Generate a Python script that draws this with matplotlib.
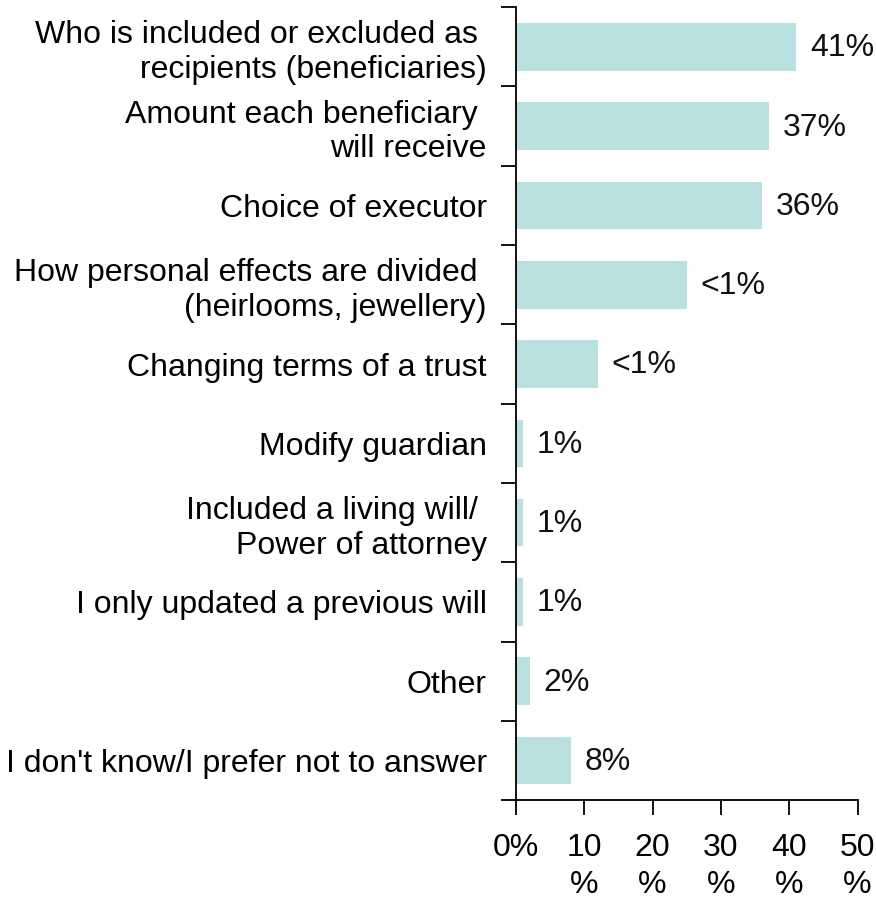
import matplotlib
matplotlib.use("Agg")
import matplotlib.pyplot as plt
import numpy as np

# Survey answers: what changed in the will
categories = [
    "Who is included or excluded as \nrecipients (beneficiaries)",
    "Amount each beneficiary \nwill receive",
    "Choice of executor",
    "How personal effects are divided \n(heirlooms, jewellery)",
    "Changing terms of a trust",
    "Modify guardian",
    "Included a living will/ \nPower of attorney",
    "I only updated a previous will",
    "Other",
    "I don't know/I prefer not to answer",
]
values = [41, 37, 36, 25, 12, 1, 1, 1, 2, 8]
value_labels = ["41%", "37%", "36%", "<1%", "<1%", "1%", "1%", "1%", "2%", "8%"]
x_ticks = [0, 10, 20, 30, 40, 50]
x_tick_labels = ["0%", "10\n%", "20\n%", "30\n%", "40\n%", "50\n%"]

plt.rcParams["font.family"] = ["Liberation Sans", "DejaVu Sans"]
FS = 23

fig = plt.figure(figsize=(8.76, 9.01), dpi=100)
ax = fig.add_axes([0.589, 0.112, 0.39, 0.880])

y = np.arange(len(categories))
ax.barh(y, values, height=0.6, color="#bae0e2", edgecolor="none")

ax.set_ylim(len(categories) - 0.5, -0.5)
ax.set_xlim(0, 50)

# Category names centred on bars, ticks at the band boundaries
ax.set_yticks(y)
ax.set_yticklabels(categories, fontsize=FS, linespacing=1.2)
ax.set_yticks(np.arange(-0.5, len(categories)), minor=True)
ax.tick_params(axis="y", which="major", length=0, pad=21)
ax.tick_params(axis="y", which="minor", length=11, width=1.3, direction="out")

ax.set_xticks(x_ticks)
ax.set_xticklabels(x_tick_labels, fontsize=FS, linespacing=1.3)
ax.tick_params(axis="x", length=11, width=1.3, direction="out", pad=13)

for side in ("top", "right"):
    ax.spines[side].set_visible(False)
for side in ("left", "bottom"):
    ax.spines[side].set_linewidth(1.3)

for yi, v, lab in zip(y, values, value_labels):
    ax.annotate(lab, xy=(v, yi), xytext=(10, -1), textcoords="offset points",
                va="center", ha="left", fontsize=FS, color="#111111")

fig.savefig("out.png", dpi=100)
